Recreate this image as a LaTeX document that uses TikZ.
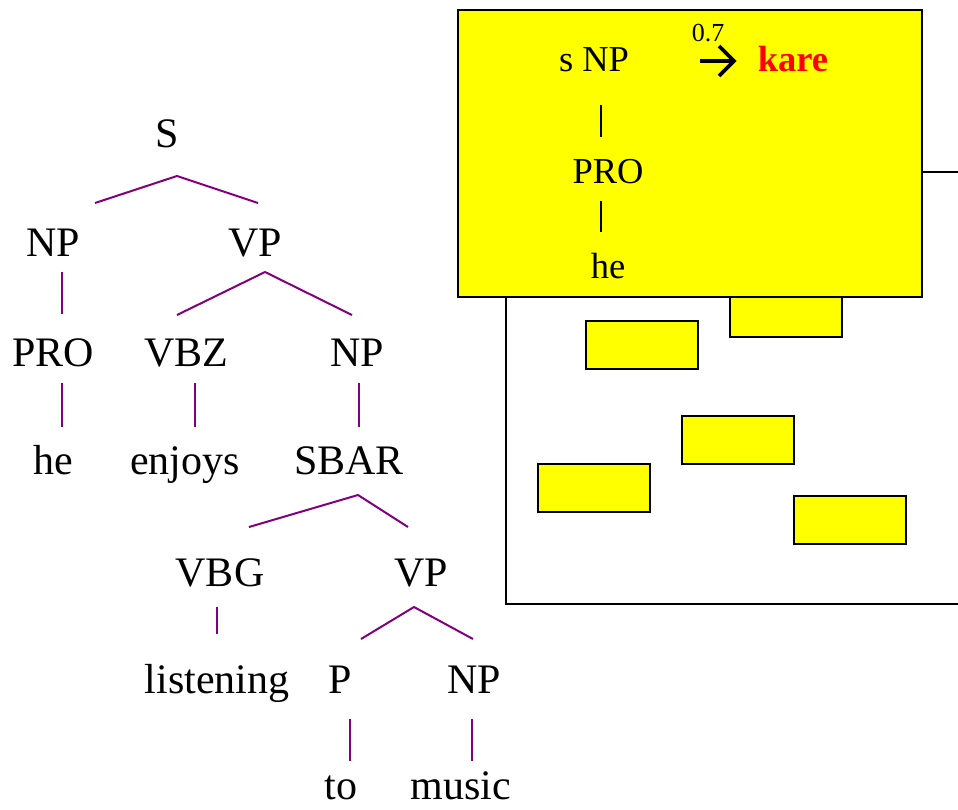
\documentclass[tikz,border=0pt]{standalone}
\usepackage{fontspec}
\setmainfont{Liberation Serif}
\definecolor{treepurple}{HTML}{800080}
\definecolor{boxyellow}{HTML}{FFFF00}
\definecolor{karered}{HTML}{FF0000}
\tikzset{
  lbl/.style={anchor=base, inner sep=0pt, font=\fontsize{42}{48}\selectfont},
  rulelbl/.style={anchor=base, inner sep=0pt, font=\fontsize{36.5}{42}\selectfont},
  branch/.style={draw=treepurple, line width=2pt},
  stem/.style={draw=black, line width=2pt},
  ybox/.style={draw=black, fill=boxyellow, line width=2.2pt},
  frame/.style={draw=black, line width=2pt}
}
\begin{document}
\begin{tikzpicture}[x=1pt, y=-1pt]
\useasboundingbox (0,0) rectangle (958,809);

% ---- parse tree ----
\node[lbl] (s)      at (167,147) {S};
\node[lbl] (np1)    at (53,256)  {NP};
\node[lbl] (vp1)    at (255,256) {VP};
\node[lbl] (pro)    at (53,366)  {PRO};
\node[lbl] (vbz)    at (186,366) {VBZ};
\node[lbl] (np2)    at (357,366) {NP};
\node[lbl] (he)     at (53,474)  {he};
\node[lbl] (enjoys) at (185,474) {enjoys};
\node[lbl] (sbar)   at (349,474) {SBAR};
\node[lbl] (vbg)    at (220,586) {VBG};
\node[lbl] (vp2)    at (421,586) {VP};
\node[lbl] (listening) at (217,693) {listening};
\node[lbl] (p)      at (340,693) {P};
\node[lbl] (np3)    at (474,693) {NP};
\node[lbl] (to)     at (341,799) {to};
\node[lbl] (music)  at (461,799) {music};

% branch points
\coordinate (s-a)    at (177,176);
\coordinate (s-l)    at (95,203);
\coordinate (s-r)    at (258,203);
\coordinate (vp1-a)  at (265,272);
\coordinate (vp1-l)  at (177,315);
\coordinate (vp1-r)  at (352,315);
\coordinate (sbar-a) at (358,495);
\coordinate (sbar-l) at (249,527);
\coordinate (sbar-r) at (408,527);
\coordinate (vp2-a)  at (414,607);
\coordinate (vp2-l)  at (361,639);
\coordinate (vp2-r)  at (473,639);

\draw[branch] (s-l) -- (s-a) -- (s-r);
\draw[branch] (vp1-l) -- (vp1-a) -- (vp1-r);
\draw[branch] (sbar-l) -- (sbar-a) -- (sbar-r);
\draw[branch] (vp2-l) -- (vp2-a) -- (vp2-r);

\draw[branch] (62,272) -- (62,314);
\draw[branch] (62,383) -- (62,427);
\draw[branch] (195,383) -- (195,427);
\draw[branch] (359,383) -- (359,427);
\draw[branch] (217,607) -- (217,634);
\draw[branch] (350,719) -- (350,761);
\draw[branch] (472,719) -- (472,761);

% ---- outer frame (runs off the right edge) ----
\draw[frame] (958,172) -- (506,172) -- (506,604) -- (958,604);

% ---- small yellow boxes ----
\node[ybox, minimum width=112pt, minimum height=48pt, anchor=north west] (b1) at (585,320) {};
\node[ybox, minimum width=112pt, minimum height=48pt, anchor=north west] (b2) at (729,288) {};
\node[ybox, minimum width=112pt, minimum height=48pt, anchor=north west] (b3) at (681,415) {};
\node[ybox, minimum width=112pt, minimum height=48pt, anchor=north west] (b4) at (537,463) {};
\node[ybox, minimum width=112pt, minimum height=48pt, anchor=north west] (b5) at (793,495) {};

% ---- rule box ----
\node[ybox, minimum width=464pt, minimum height=287pt, anchor=north west] (rule) at (457,9) {};
\node[rulelbl] (rnp)  at (594,71)  {s NP};
\node[rulelbl] (rpro) at (608,183) {PRO};
\node[rulelbl] (rhe)  at (608,278) {he};
\draw[stem] (601,105) -- (601,137);
\draw[stem] (601,201) -- (601,232);
\node[anchor=base, inner sep=0pt, font=\fontsize{26}{30}\selectfont] (prob) at (708,41) {0.7};
\coordinate (arr-l) at (700,61);
\coordinate (arr-r) at (734,61);
\draw[line width=3.8pt] (arr-l) -- ([xshift=-3pt]arr-r);
\draw[line width=3.8pt, line join=miter] (719,46) -- (arr-r) -- (719,76);
\node[rulelbl, font=\fontsize{36.5}{42}\selectfont\bfseries, text=karered] (kare) at (793,71) {kare};
\end{tikzpicture}
\end{document}
